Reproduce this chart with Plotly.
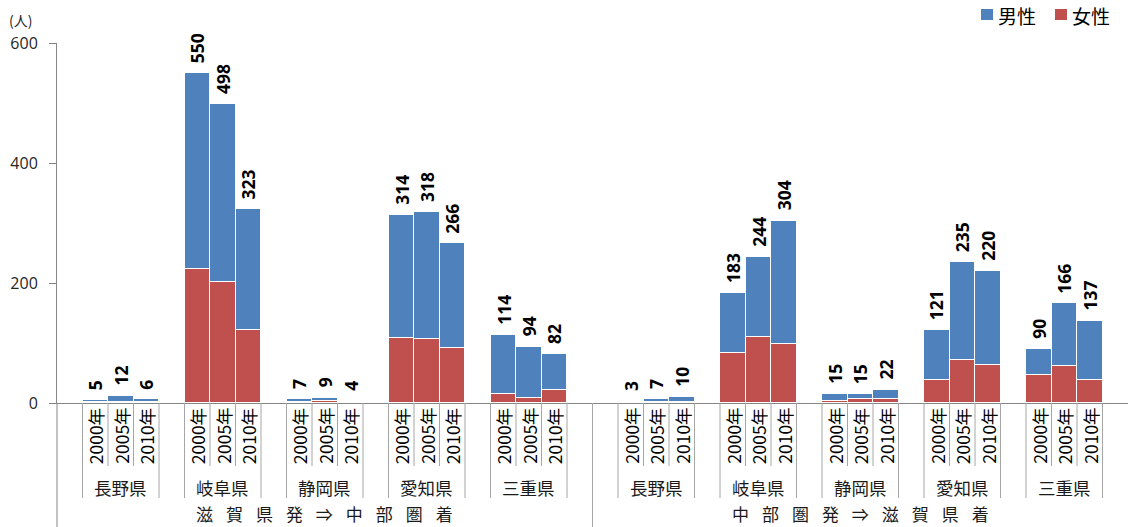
import plotly.graph_objects as go

# ---- data -------------------------------------------------------------
directions = ["滋 賀 県 発 ⇒ 中 部 圏 着", "中 部 圏 発 ⇒ 滋 賀 県 着"]
prefectures = ["長野県", "岐阜県", "静岡県", "愛知県", "三重県"]
years = ["2000年", "2005年", "2010年"]

# 滋賀県発 ⇒ 中部圏着 (prefecture-major, year-minor)
male_out = [4, 10, 5, 327, 297, 201, 5, 6, 3, 206, 212, 174, 99, 85, 60]
female_out = [1, 2, 1, 223, 201, 122, 2, 3, 1, 108, 106, 92, 15, 9, 22]
# 中部圏発 ⇒ 滋賀県着
male_in = [2, 5, 8, 99, 134, 205, 11, 9, 16, 82, 163, 156, 44, 104, 98]
female_in = [1, 2, 2, 84, 110, 99, 4, 6, 6, 39, 72, 64, 46, 62, 39]

y_ticks = [0, 200, 400, 600]

# ---- styling ----------------------------------------------------------
BLUE = "#4F81BD"
RED = "#C0504D"
GRID = "#A6A6A6"
AXIS = "#868686"
W, H = 1131, 527
ML, MR, MT, MB = 57, 3, 43, 124
PW, PH = W - ML - MR, H - MT - MB
CJK = "Noto Sans CJK JP"
NUM = "Open Sans"

n_pref, n_year = len(prefectures), len(years)
slots_per_dir = 1 + n_pref * (n_year + 1)   # leading gap + (years + gap) per prefecture


def pref_start(d, p):
    return d * slots_per_dir + 1 + p * (n_year + 1)


def px_x(px):
    return (px - ML) / PW


def px_y(px):
    return (H - MB - px) / PH


xs, male, female = [], [], []
for d, (m_list, f_list) in enumerate([(male_out, female_out), (male_in, female_in)]):
    for p in range(n_pref):
        for k in range(n_year):
            xs.append(pref_start(d, p) + k + 0.5)
            male.append(m_list[p * n_year + k])
            female.append(f_list[p * n_year + k])
totals = [m + f for m, f in zip(male, female)]

fig = go.Figure()
fig.add_trace(go.Bar(x=xs, y=female, name="女性", marker=dict(color=RED, line=dict(color="white", width=1.5)),
                     width=1.0, showlegend=False, hoverinfo="skip"))
fig.add_trace(go.Bar(x=xs, y=male, name="男性", marker=dict(color=BLUE, line=dict(color="white", width=1.5)),
                     width=1.0, showlegend=False, hoverinfo="skip"))

annotations = []
shapes = []

# totals above each stack
for x, t in zip(xs, totals):
    annotations.append(dict(x=x, y=t, xref="x", yref="y", text=str(t), textangle=-90, showarrow=False,
                            xanchor="center", yanchor="bottom", yshift=8,
                            font=dict(family=NUM, size=17.5, color="black", weight="bold")))

# multi-level category axis
for d in range(2):
    for p in range(n_pref):
        s = pref_start(d, p)
        for k in range(n_year):
            annotations.append(dict(x=s + k + 0.5, y=0, xref="x", yref="paper", text=years[k], textangle=-90,
                                    showarrow=False, xanchor="center", yanchor="top", yshift=-3,
                                    font=dict(family=CJK, size=17.5, color="black")))
        annotations.append(dict(x=s + n_year / 2, y=0, xref="x", yref="paper", text=prefectures[p],
                                showarrow=False, xanchor="center", yanchor="middle", yshift=-84,
                                font=dict(family=CJK, size=17.5, color="#1a1a1a")))
        for edge in (0, n_year):
            shapes.append(dict(type="line", xref="x", yref="paper", x0=s + edge, x1=s + edge,
                               y0=0, y1=px_y(498), line=dict(color=GRID, width=1)))
        for inner in range(1, n_year):
            shapes.append(dict(type="line", xref="x", yref="paper", x0=s + inner, x1=s + inner,
                               y0=0, y1=px_y(466), line=dict(color=GRID, width=1)))
    annotations.append(dict(x=d * slots_per_dir + slots_per_dir / 2, y=px_y(H), xref="x", yref="paper",
                            text=directions[d].replace(" ", "\u2002\u2009\u200a"), showarrow=False,
                            xanchor="center", yanchor="bottom", yshift=-1,
                            font=dict(family=CJK, size=17, color="#1a1a1a")))

# separator between the two directions and the extended value axis
shapes.append(dict(type="line", xref="x", yref="paper", x0=slots_per_dir, x1=slots_per_dir,
                   y0=0, y1=px_y(H), line=dict(color=GRID, width=1)))
shapes.append(dict(type="line", xref="paper", yref="paper", x0=0, x1=0,
                   y0=0, y1=px_y(H), line=dict(color=AXIS, width=1)))

# unit label
annotations.append(dict(x=px_x(7), y=px_y(20), xref="paper", yref="paper", text="(人)", showarrow=False,
                        xanchor="left", yanchor="middle", font=dict(family=CJK, size=14, color="#262626")))

# legend
for label, color, sq_left in [("男性", BLUE, 981), ("女性", RED, 1055)]:
    shapes.append(dict(type="rect", xref="paper", yref="paper", x0=px_x(sq_left), x1=px_x(sq_left + 12),
                       y0=px_y(20), y1=px_y(9), fillcolor=color, line=dict(width=0)))
    annotations.append(dict(x=px_x(sq_left + 15), y=px_y(15), xref="paper", yref="paper", text=label,
                            showarrow=False, xanchor="left", yanchor="middle",
                            font=dict(family=CJK, size=19, color="black")))

fig.update_layout(
    width=W, height=H,
    margin=dict(l=ML, r=MR, t=MT, b=MB),
    barmode="stack",
    bargap=0,
    plot_bgcolor="white",
    paper_bgcolor="white",
    annotations=annotations,
    shapes=shapes,
    xaxis=dict(range=[0, 2 * slots_per_dir], showticklabels=False, ticks="", showgrid=False, zeroline=False,
               showline=True, linecolor=AXIS, linewidth=1, fixedrange=True),
    yaxis=dict(range=[0, 600], tickvals=y_ticks, ticks="outside", ticklen=7, tickcolor=AXIS,
               showgrid=False, zeroline=False, showline=True, linecolor=AXIS, linewidth=1,
               tickfont=dict(family=NUM, size=16, color="#262626"), ticklabelstandoff=8, fixedrange=True),
)

fig.write_html("out.html")
